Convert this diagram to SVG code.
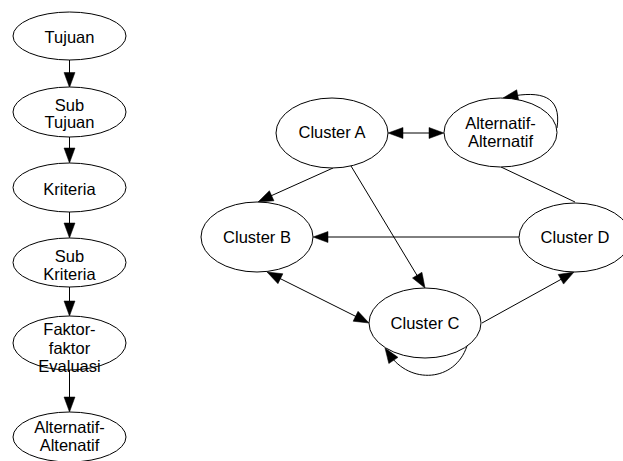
<svg xmlns="http://www.w3.org/2000/svg" xmlns:xlink="http://www.w3.org/1999/xlink" width="623" height="461" viewBox="0 0 623 461">
<defs>
<path id="head" d="M0,0 L-15,-5.5 L-15,5.5 z" fill="#000" stroke="#000" stroke-width="0.5" stroke-linejoin="miter"/>
</defs>
<style>
ellipse{fill:#fff;stroke:#000;stroke-width:1}
text{font-family:"Liberation Sans",Arial,sans-serif;font-size:16.5px;fill:#000;text-anchor:middle}
.c line,.c path{stroke:#000;stroke-width:1;fill:none}
</style>
<rect width="623" height="461" fill="#fff"/>
<g class="c" id="connectors">
<line x1="69.5" y1="60" x2="69.5" y2="80"/>
<use href="#head" xlink:href="#head" transform="translate(69.5,87.5) rotate(90)"/>
<line x1="69.5" y1="137" x2="69.5" y2="156"/>
<use href="#head" xlink:href="#head" transform="translate(69.5,163) rotate(90)"/>
<line x1="69.5" y1="212" x2="69.5" y2="231"/>
<use href="#head" xlink:href="#head" transform="translate(69.5,238) rotate(90)"/>
<line x1="69.5" y1="287" x2="69.5" y2="309"/>
<use href="#head" xlink:href="#head" transform="translate(69.5,316) rotate(90)"/>
<line x1="69.5" y1="370" x2="69.5" y2="405"/>
<use href="#head" xlink:href="#head" transform="translate(69.5,412) rotate(90)"/>
<line x1="395" y1="133" x2="437" y2="133"/>
<use href="#head" xlink:href="#head" transform="translate(388,133) rotate(180)"/>
<use href="#head" xlink:href="#head" transform="translate(444,133)"/>
<line x1="333" y1="168" x2="264" y2="199"/>
<use href="#head" xlink:href="#head" transform="translate(258,202) rotate(155.6)"/>
<line x1="351" y1="166" x2="421" y2="282"/>
<use href="#head" xlink:href="#head" transform="translate(425,288) rotate(58.8)"/>
<line x1="273" y1="275" x2="363" y2="320"/>
<use href="#head" xlink:href="#head" transform="translate(267,272) rotate(206.6)"/>
<use href="#head" xlink:href="#head" transform="translate(369,323) rotate(26.6)"/>
<line x1="519" y1="237" x2="320" y2="237"/>
<use href="#head" xlink:href="#head" transform="translate(313,237) rotate(180)"/>
<line x1="482" y1="323" x2="568" y2="275.5"/>
<use href="#head" xlink:href="#head" transform="translate(574,272) rotate(-29)"/>
<line x1="501" y1="167" x2="575" y2="202"/>
<path d="M557,128 C562,95 540,91 510,96.5"/>
<use href="#head" xlink:href="#head" transform="translate(503,98) rotate(169.3)"/>
<path d="M467,346 C455,382 410,385 389,354"/>
<use href="#head" xlink:href="#head" transform="translate(385,348) rotate(236)"/>
</g>
<g id="tujuan"><ellipse cx="69.5" cy="36" rx="56.5" ry="24"/><text x="69.5" y="43">Tujuan</text></g>
<g id="subtujuan"><ellipse cx="69.5" cy="112" rx="56.5" ry="25"/><text x="69.5" y="111">Sub</text><text x="69.5" y="128">Tujuan</text></g>
<g id="kriteria"><ellipse cx="69.5" cy="187.5" rx="56.5" ry="24.5"/><text x="69.5" y="195">Kriteria</text></g>
<g id="subkriteria"><ellipse cx="69.5" cy="262.5" rx="56.5" ry="24.5"/><text x="69.5" y="262">Sub</text><text x="69.5" y="280">Kriteria</text></g>
<g id="faktor"><ellipse cx="69.5" cy="343" rx="56.5" ry="27"/><text x="69.5" y="335">Faktor-</text><text x="69.5" y="353.5">faktor</text><text x="69.5" y="372">Evaluasi</text></g>
<g id="alternatif-left"><ellipse cx="69.5" cy="437" rx="56.5" ry="25"/><text x="69.5" y="433">Alternatif-</text><text x="69.5" y="451">Altenatif</text></g>
<g id="clusterA"><ellipse cx="332" cy="133" rx="56" ry="35"/><text x="332" y="138">Cluster A</text></g>
<g id="alternatif"><ellipse cx="500.5" cy="132.5" rx="56.5" ry="34.5"/><text x="500.5" y="129">Alternatif-</text><text x="500.5" y="147">Alternatif</text></g>
<g id="clusterB"><ellipse cx="257" cy="237" rx="56" ry="35"/><text x="257" y="243">Cluster B</text></g>
<g id="clusterC"><ellipse cx="425" cy="323" rx="56" ry="35"/><text x="425" y="329">Cluster C</text></g>
<g id="clusterD"><ellipse cx="575" cy="237.5" rx="56" ry="34.5"/><text x="575" y="243">Cluster D</text></g>
</svg>
